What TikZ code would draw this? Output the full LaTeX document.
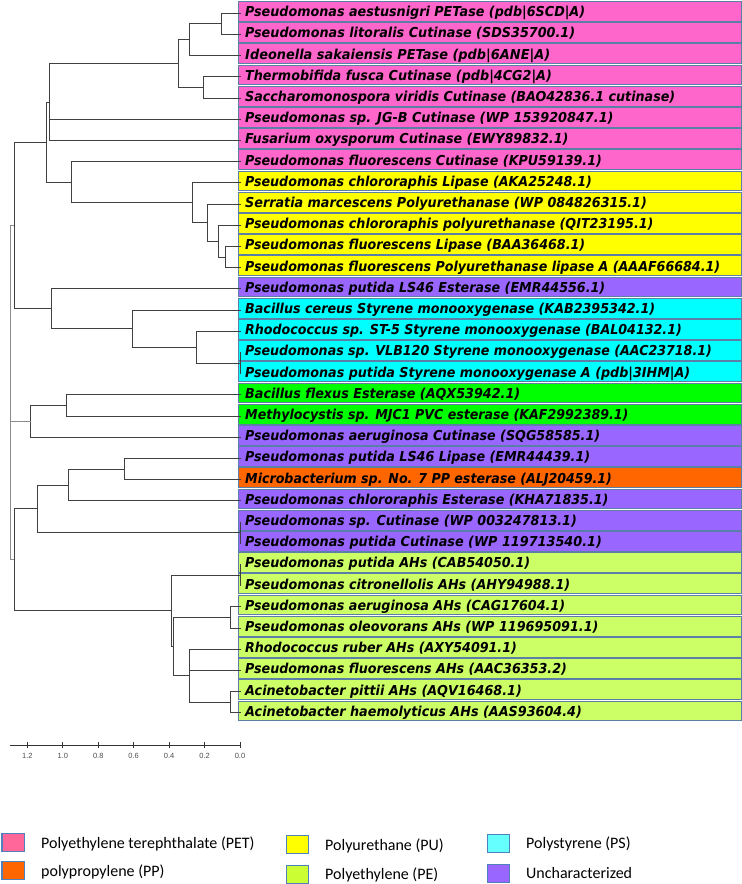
\documentclass[tikz,border=0pt]{standalone}
\usepackage{graphicx}
\usepackage{fontspec}
\newfontfamily\leaffont{DejaVu Sans Bold Oblique}
\newfontfamily\legfont{Carlito}
\newfontfamily\axfont{Liberation Sans}
\definecolor{petc}{HTML}{FF66CC}
\definecolor{puc}{HTML}{FFFF00}
\definecolor{unc}{HTML}{9966FF}
\definecolor{psc}{HTML}{00FFFF}
\definecolor{grc}{HTML}{00FF00}
\definecolor{ppc}{HTML}{FF6600}
\definecolor{pec}{HTML}{CCFF66}
\definecolor{boxline}{HTML}{5B7FA6}
\definecolor{treeline}{HTML}{404040}
\definecolor{legline}{HTML}{4F81BD}
\definecolor{lgpet}{HTML}{FF6699}
\definecolor{lgpp}{HTML}{FF6600}
\definecolor{lgpu}{HTML}{FFFF00}
\definecolor{lgpe}{HTML}{CCFF33}
\definecolor{lgps}{HTML}{66FFFF}
\definecolor{lgun}{HTML}{9966FF}
\begin{document}
\begin{tikzpicture}[x=1pt,y=-1pt]
\tikzset{
  rowbox/.style={draw=boxline, line width=0.7pt, minimum width=503pt, minimum height=19.7pt, inner sep=0pt, anchor=north west},
  leaflabel/.style={anchor=base west, inner sep=0pt, font=\leaffont\fontsize{13.7}{16}\selectfont},
  branch/.style={draw=treeline, line width=0.9pt},
  axisline/.style={draw=black!80, line width=0.8pt},
  ticklabel/.style={font=\axfont\fontsize{7.5}{8}\selectfont, text=black!70, inner sep=0pt},
  legbox/.style={draw=legline, line width=1.2pt, minimum width=22pt, minimum height=18pt, inner sep=0pt, anchor=north west},
  legtext/.style={anchor=base west, inner sep=0pt, font=\legfont\fontsize{16}{18}\selectfont}
}
\fill[white] (0,0) rectangle (742,884);
\useasboundingbox (0,0) rectangle (742,884);

\foreach \i/\c/\w/\t in {
 1/petc/340/{Pseudomonas aestusnigri PETase (pdb|6SCD|A)},
 2/petc/330/{Pseudomonas litoralis Cutinase (SDS35700.1)},
 3/petc/305/{Ideonella sakaiensis PETase (pdb|6ANE|A)},
 4/petc/306.7/{Thermobifida fusca Cutinase (pdb|4CG2|A)},
 5/petc/430/{Saccharomonospora viridis Cutinase (BAO42836.1 cutinase)},
 6/petc/368.3/{Pseudomonas sp. JG-B Cutinase (WP 153920847.1)},
 7/petc/323.3/{Fusarium oxysporum Cutinase (EWY89832.1)},
 8/petc/356.7/{Pseudomonas fluorescens Cutinase (KPU59139.1)},
 9/puc/346.7/{Pseudomonas chlororaphis Lipase (AKA25248.1)},
 10/puc/401.7/{Serratia marcescens Polyurethanase (WP 084826315.1)},
 11/puc/408.3/{Pseudomonas chlororaphis polyurethanase (QIT23195.1)},
 12/puc/340/{Pseudomonas fluorescens Lipase (BAA36468.1)},
 13/puc/475/{Pseudomonas fluorescens Polyurethanase lipase A (AAAF66684.1)},
 14/unc/360/{Pseudomonas putida LS46 Esterase (EMR44556.1)},
 15/psc/410/{Bacillus cereus Styrene monooxygenase (KAB2395342.1)},
 16/psc/436.7/{Rhodococcus sp. ST-5 Styrene monooxygenase (BAL04132.1)},
 17/psc/466.7/{Pseudomonas sp. VLB120 Styrene monooxygenase (AAC23718.1)},
 18/psc/445/{Pseudomonas putida Styrene monooxygenase A (pdb|3IHM|A)},
 19/grc/275/{Bacillus flexus Esterase (AQX53942.1)},
 20/grc/383.3/{Methylocystis sp. MJC1 PVC esterase (KAF2992389.1)},
 21/unc/355/{Pseudomonas aeruginosa Cutinase (SQG58585.1)},
 22/unc/345/{Pseudomonas putida LS46 Lipase (EMR44439.1)},
 23/ppc/366.7/{Microbacterium sp. No. 7 PP esterase (ALJ20459.1)},
 24/unc/363.3/{Pseudomonas chlororaphis Esterase (KHA71835.1)},
 25/unc/331.7/{Pseudomonas sp. Cutinase (WP 003247813.1)},
 26/unc/356.7/{Pseudomonas putida Cutinase (WP 119713540.1)},
 27/pec/285/{Pseudomonas putida AHs (CAB54050.1)},
 28/pec/325/{Pseudomonas citronellolis AHs (AHY94988.1)},
 29/pec/320/{Pseudomonas aeruginosa AHs (CAG17604.1)},
 30/pec/353.3/{Pseudomonas oleovorans AHs (WP 119695091.1)},
 31/pec/271.7/{Rhodococcus ruber AHs (AXY54091.1)},
 32/pec/321.7/{Pseudomonas fluorescens AHs (AAC36353.2)},
 33/pec/276.7/{Acinetobacter pittii AHs (AQV16468.1)},
 34/pec/336.7/{Acinetobacter haemolyticus AHs (AAS93604.4)}}{
  \pgfmathsetmacro\yy{13.3+21.2*(\i-1)}
  \node[rowbox, fill=\c] (box\i) at (237.5,\yy-12.3) {};
  \node[leaflabel] (lab\i) at (245,\yy+3.4) {\resizebox{\w pt}{\height}{\t}};
  \coordinate (t\i) at (241,\yy);
}

% internal nodes
\coordinate (n12) at (221.7,23.9);
\coordinate (n123) at (189,39.8);
\coordinate (n45) at (203.3,87.5);
\coordinate (n1to5) at (178.7,63.65);
\coordinate (n1to7) at (49,102.1);
\coordinate (n1213) at (225.3,257.1);
\coordinate (n11) at (218.7,241.2);
\coordinate (n10) at (207.7,222.65);
\coordinate (n9) at (192.7,202.8);
\coordinate (n8) at (71.7,182.25);
\coordinate (n1to13) at (46.5,142.2);
\coordinate (n1718) at (240,363.1);
\coordinate (n16) at (196.7,347.2);
\coordinate (n15) at (132.7,328.65);
\coordinate (n14) at (51,308.8);
\coordinate (ntop) at (14.3,225.5);
\coordinate (n1920) at (66.7,405.5);
\coordinate (n1921) at (30.7,421.4);
\coordinate (n2223) at (124,469.1);
\coordinate (n2224) at (68.7,485);
\coordinate (n2526) at (240,532.7);
\coordinate (n2226) at (37.7,508.85);
\coordinate (n2728) at (240,575.1);
\coordinate (n2930) at (230.3,617.5);
\coordinate (n3334) at (230,702.3);
\coordinate (nC) at (189.3,675.8);
\coordinate (nB) at (173.3,646.65);
\coordinate (nA) at (171.7,610.9);
\coordinate (nbot) at (14.3,559.9);
\coordinate (root) at (10,392.7);

\draw[branch] (n12) |- (t1) (n12) |- (t2)
  (n123) |- (n12) (n123) |- (t3)
  (n45) |- (t4) (n45) |- (t5)
  (n1to5) |- (n123) (n1to5) |- (n45)
  (n1to7) |- (n1to5) (n1to7) |- (t6) (n1to7) |- (t7)
  (n1213) |- (t12) (n1213) |- (t13)
  (n11) |- (t11) (n11) |- (n1213)
  (n10) |- (t10) (n10) |- (n11)
  (n9) |- (t9) (n9) |- (n10)
  (n8) |- (t8) (n8) |- (n9)
  (n1to13) |- (n1to7) (n1to13) |- (n8)
  (n1718) |- (t17) (n1718) |- (t18)
  (n16) |- (t16) (n16) |- (n1718)
  (n15) |- (t15) (n15) |- (n16)
  (n14) |- (t14) (n14) |- (n15)
  (ntop) |- (n1to13) (ntop) |- (n14)
  (n1920) |- (t19) (n1920) |- (t20)
  (n1921) |- (n1920) (n1921) |- (t21)
  (n2223) |- (t22) (n2223) |- (t23)
  (n2224) |- (n2223) (n2224) |- (t24)
  (n2526) |- (t25) (n2526) |- (t26)
  (n2226) |- (n2224) (n2226) |- (n2526)
  (n2728) |- (t27) (n2728) |- (t28)
  (n2930) |- (t29) (n2930) |- (t30)
  (n3334) |- (t33) (n3334) |- (t34)
  (nC) |- (t31) (nC) |- (t32) (nC) |- (n3334)
  (nB) |- (n2930) (nB) |- (nC)
  (nA) |- (n2728) (nA) |- (nB)
  (nbot) |- (n2226) (nbot) |- (nA);
\draw[branch, draw=black!45] (root) |- (ntop) (root) |- (n1921) (root) |- (nbot);

% scale axis
\coordinate (axL) at (10,745.7);
\coordinate (axR) at (240,745.7);
\draw[axisline] (axL) -- (axR);
\foreach \n/\d in {a/1.2,b/1.0,c/0.8,d/0.6,e/0.4,f/0.2,g/0.0}{
  \coordinate (tk\n) at (240-177.2*\d,742.3);
  \draw[axisline] (tk\n) -- ++(0,6);
  \node[ticklabel] (tl\n) at (240-177.2*\d,756) {\d};
}

% legend
\node[legbox, fill=lgpet] (lgA) at (1.5,832.7) {};
\node[legtext] (ltA) at (41,848.3) {Polyethylene terephthalate (PET)};
\node[legbox, fill=lgpp] (lgB) at (1.5,860.5) {};
\node[legtext] (ltB) at (41,876.7) {polypropylene (PP)};
\node[legbox, fill=lgpu] (lgC) at (285.7,835) {};
\node[legtext] (ltC) at (325,850) {Polyurethane (PU)};
\node[legbox, fill=lgpe] (lgD) at (285.7,865) {};
\node[legtext] (ltD) at (325,879.3) {Polyethylene (PE)};
\node[legbox, fill=lgps] (lgE) at (486.5,834) {};
\node[legtext] (ltE) at (526,848.3) {Polystyrene (PS)};
\node[legbox, fill=lgun] (lgF) at (486.5,864) {};
\node[legtext] (ltF) at (526,878.3) {Uncharacterized};
\end{tikzpicture}
\end{document}
